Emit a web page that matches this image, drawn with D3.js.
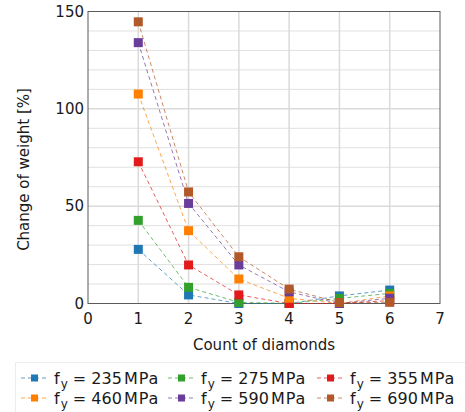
<!DOCTYPE html>
<html>
<head>
<meta charset="utf-8">
<script src="https://cdn.jsdelivr.net/npm/d3@7"></script>
<style>
  html, body { margin: 0; padding: 0; background: #fff; }
  svg { display: block; font-family: "DejaVu Sans", sans-serif; }
</style>
</head>
<body>
<svg id="chart" width="465" height="412"></svg>
<script>
// Change of weight vs count of diamonds, one dashed series per yield strength

const counts = [1, 2, 3, 4, 5, 6];
const strengths = [235, 275, 355, 460, 590, 690];

const s235 = [27.8, 4.4, 0.0, 0.0, 3.9, 6.9];
const s275 = [42.7, 8.3, 0.6, 0.0, 2.6, 5.2];
const s355 = [72.8, 19.8, 4.4, 0.0, 0.0, 1.5];
const s460 = [107.6, 37.4, 12.6, 2.7, 0.0, 3.9];
const s590 = [134.0, 51.4, 19.8, 6.0, 0.0, 2.7];
const s690 = [144.7, 57.3, 24.0, 7.4, 0.5, 0.6];

const xTicks = [0, 1, 2, 3, 4, 5, 6, 7];
const yTicks = [0, 50, 100, 150];
const yMinor = [10, 20, 30, 40, 60, 70, 80, 90, 110, 120, 130, 140];

(function () {
  const W = 465, H = 412;
  const M = { top: 11.5, right: 25, bottom: 108.5, left: 88 };
  const innerW = W - M.left - M.right;
  const innerH = H - M.top - M.bottom;

  const COLORS = ["#1f78b4", "#33a02c", "#e31a1c", "#ff7f00", "#6a3d9a", "#b15928"];
  const seriesValues = [s235, s275, s355, s460, s590, s690];

  const series = strengths.map((fy, i) => ({
    fy: fy,
    color: COLORS[i],
    points: counts.map((c, j) => ({ x: c, y: seriesValues[i][j] }))
  }));

  const svg = d3.select("#chart");
  const g = svg.append("g").attr("transform", `translate(${M.left},${M.top})`);

  const x = d3.scaleLinear().domain([0, 7]).range([0, innerW]);
  const y = d3.scaleLinear().domain([0, 150]).range([innerH, 0]);

  // minor horizontal grid
  g.append("g").selectAll("line").data(yMinor).enter().append("line")
    .attr("x1", 0).attr("x2", innerW)
    .attr("y1", d => y(d)).attr("y2", d => y(d))
    .attr("stroke", "#e0e0e0").attr("stroke-width", 1);

  // major grid
  g.append("g").selectAll("line").data(yTicks.slice(1, -1)).enter().append("line")
    .attr("x1", 0).attr("x2", innerW)
    .attr("y1", d => y(d)).attr("y2", d => y(d))
    .attr("stroke", "#c8c8c8").attr("stroke-width", 1);

  g.append("g").selectAll("line").data(xTicks.slice(1, -1)).enter().append("line")
    .attr("x1", d => x(d)).attr("x2", d => x(d))
    .attr("y1", 0).attr("y2", innerH)
    .attr("stroke", "#dadada").attr("stroke-width", 1.5);

  // frame
  g.append("rect")
    .attr("x", 0).attr("y", 0).attr("width", innerW).attr("height", innerH)
    .attr("fill", "none").attr("stroke", "#5a5a5a").attr("stroke-width", 1);

  // tick labels
  g.append("g").selectAll("text").data(yTicks).enter().append("text")
    .attr("x", -4).attr("y", d => y(d)).attr("dy", "0.35em")
    .attr("text-anchor", "end").attr("font-size", 15).attr("fill", "#1a1a1a")
    .text(d => d);

  g.append("g").selectAll("text").data(xTicks).enter().append("text")
    .attr("x", d => x(d)).attr("y", innerH + 20)
    .attr("text-anchor", "middle").attr("font-size", 15).attr("fill", "#1a1a1a")
    .text(d => d);

  // axis titles
  g.append("text")
    .attr("x", innerW / 2).attr("y", innerH + 46)
    .attr("text-anchor", "middle").attr("font-size", 15).attr("fill", "#1a1a1a")
    .text("Count of diamonds");

  g.append("text")
    .attr("transform", `translate(${-M.left + 29},${innerH / 2 + 12}) rotate(-90)`)
    .attr("text-anchor", "middle").attr("font-size", 15).attr("fill", "#1a1a1a")
    .text("Change of weight [%]");

  // series lines + markers
  const line = d3.line().x(d => x(d.x)).y(d => y(d.y));
  const MK = 9;

  series.forEach(s => {
    g.append("path")
      .datum(s.points)
      .attr("d", line)
      .attr("fill", "none")
      .attr("stroke", s.color)
      .attr("stroke-width", 1)
      .attr("stroke-opacity", 0.7)
      .attr("stroke-dasharray", "4 3");
  });

  series.forEach(s => {
    g.append("g").selectAll("rect").data(s.points).enter().append("rect")
      .attr("x", d => x(d.x) - MK / 2).attr("y", d => y(d.y) - MK / 2)
      .attr("width", MK).attr("height", MK)
      .attr("fill", s.color);
  });

  // legend
  const legend = svg.append("g");
  legend.append("rect")
    .attr("x", 15.5).attr("y", 362.5).attr("width", 460).attr("height", 60)
    .attr("fill", "#fff").attr("stroke", "#ececec");

  const colX = [21, 168, 317];
  const rowY = [378, 398];
  series.forEach((s, i) => {
    const lx = colX[i % 3], ly = rowY[Math.floor(i / 3)];
    legend.append("line")
      .attr("x1", lx).attr("x2", lx + 27).attr("y1", ly).attr("y2", ly)
      .attr("stroke", s.color).attr("stroke-opacity", 0.7)
      .attr("stroke-dasharray", "4 3").attr("stroke-width", 1);
    legend.append("rect")
      .attr("x", lx + 10).attr("y", ly - 3.5).attr("width", 7).attr("height", 7)
      .attr("fill", s.color);
    const t = legend.append("text")
      .attr("x", lx + 33).attr("y", ly + 6)
      .attr("font-size", 16).attr("fill", "#1a1a1a");
    t.append("tspan").text("f");
    t.append("tspan").attr("font-size", 12).attr("dy", 4).attr("dx", 1).text("y");
    t.append("tspan").attr("dy", -4).text(" = " + s.fy);
    t.append("tspan").attr("dx", 2).attr("letter-spacing", 1).text("MPa");
  });
})();
</script>
</body>
</html>
